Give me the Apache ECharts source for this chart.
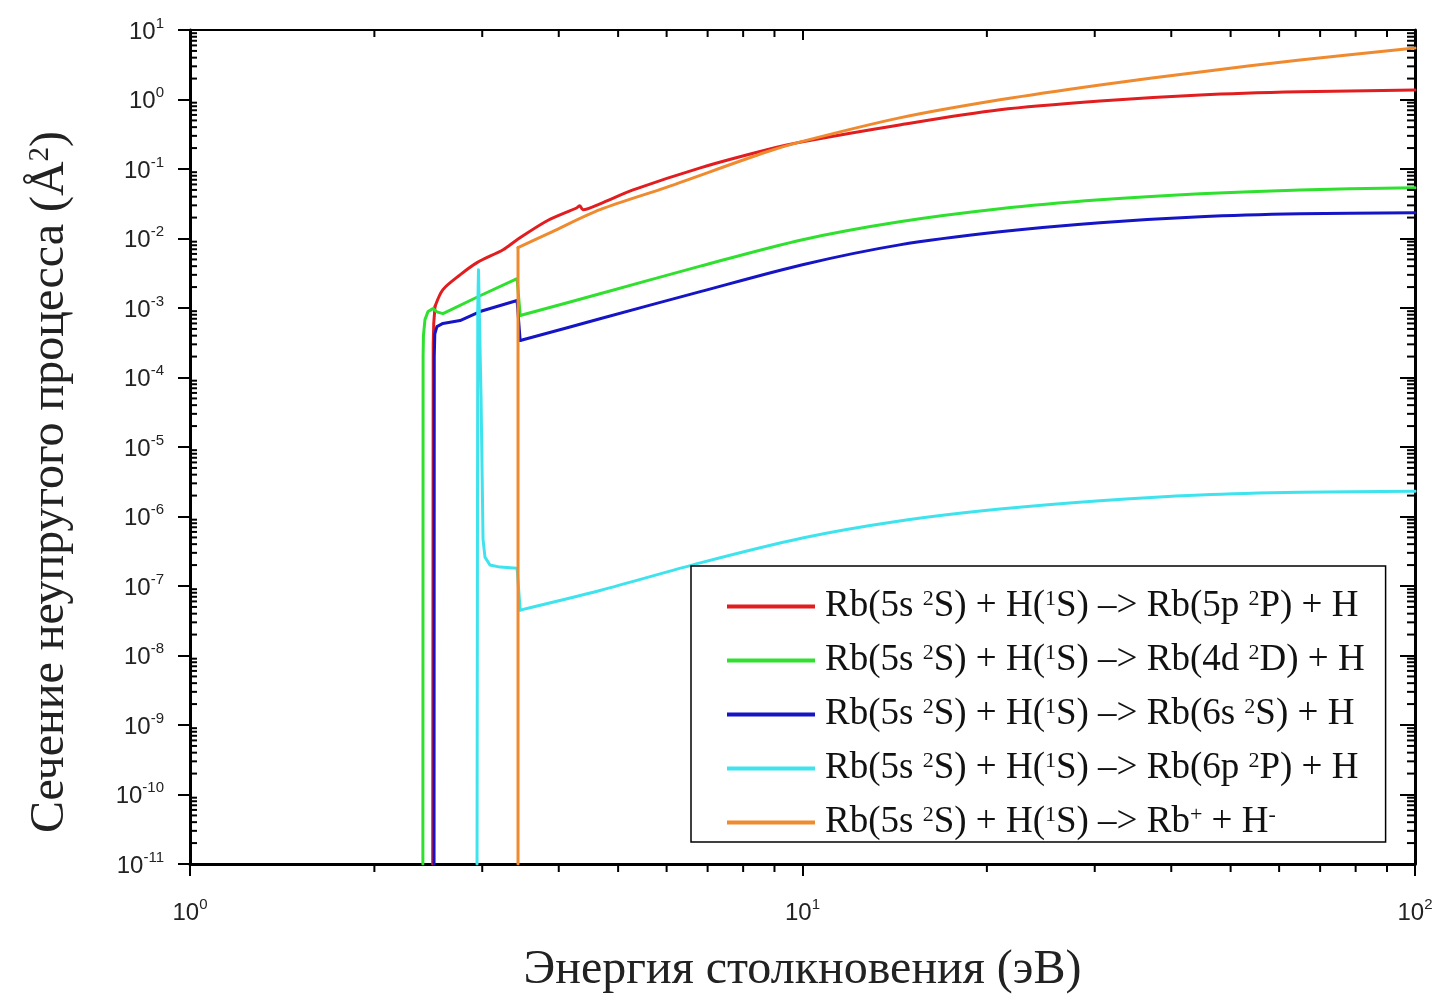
<!DOCTYPE html>
<html>
<head>
<meta charset="utf-8">
<script src="https://cdn.jsdelivr.net/npm/echarts@6/dist/echarts.min.js"></script>
<style>
  html, body { margin: 0; padding: 0; background: #fff; }
  #chart { width: 1441px; height: 999px; }
</style>
</head>
<body>
<div id="chart"></div>
<script>
// Inelastic cross sections for Rb(5s) + H(1s) collisions, Å^2 vs collision energy, eV

const reactionNames = [
  'Rb(5s {s|2}S) + H({s|1}S) –> Rb(5p {s|2}P) + H',
  'Rb(5s {s|2}S) + H({s|1}S) –> Rb(4d {s|2}D) + H',
  'Rb(5s {s|2}S) + H({s|1}S) –> Rb(6s {s|2}S) + H',
  'Rb(5s {s|2}S) + H({s|1}S) –> Rb(6p {s|2}P) + H',
  'Rb(5s {s|2}S) + H({s|1}S) –> Rb{s|+} + H{s|-}'
];
const reactionColors = ['#e11d1f', '#2fe02f', '#1515c6', '#3fe3ee', '#f08a2e'];

// 5p
const energy5p = [2.49, 2.495, 2.50, 2.512, 2.588, 2.76, 2.942, 3.245, 3.42, 3.83, 4.283, 4.33, 4.38, 4.67, 5.29, 6.81, 8.75, 10, 14.4, 21, 30.6, 44.6, 64.9, 100];
const sigma5p  = [1e-11, 3e-4, 6e-4, 1.05e-3, 1.84e-3, 3.0e-3, 4.5e-3, 6.9e-3, 9.6e-3, 1.8e-2, 2.77e-2, 2.96e-2, 2.6e-2, 3.16e-2, 5.0e-2, 0.104, 0.189, 0.246, 0.43, 0.71, 0.95, 1.16, 1.29, 1.37];

// 4d
const energy4d = [2.40, 2.402, 2.405, 2.419, 2.447, 2.493, 2.53, 2.588, 2.975, 3.42, 3.46, 4.67, 6.81, 10, 14.4, 21, 30.6, 44.6, 64.9, 100];
const sigma4d  = [1e-11, 2e-4, 4e-4, 6.8e-4, 8.9e-4, 9.8e-4, 8.8e-4, 8.3e-4, 1.5e-3, 2.64e-3, 7.8e-4, 1.6e-3, 4.0e-3, 9.6e-3, 1.74e-2, 2.68e-2, 3.6e-2, 4.4e-2, 5.0e-2, 5.37e-2];

// 6s
const energy6s = [2.503, 2.505, 2.51, 2.53, 2.588, 2.76, 2.975, 3.42, 3.46, 4.67, 6.81, 10, 14.4, 21, 30.6, 44.6, 64.9, 100];
const sigma6s  = [1e-11, 2e-4, 4.2e-4, 5.4e-4, 6.0e-4, 6.6e-4, 8.9e-4, 1.28e-3, 3.4e-4, 7.0e-4, 1.72e-3, 4.2e-3, 8.1e-3, 1.25e-2, 1.69e-2, 2.06e-2, 2.27e-2, 2.35e-2];

// 6p
const energy6p = [2.942, 2.95, 2.958, 2.987, 3.009, 3.031, 3.088, 3.208, 3.42, 3.46, 4.67, 6.81, 10, 14.4, 21, 30.6, 44.6, 64.9, 100];
const sigma6p  = [1e-11, 1e-3, 3.56e-3, 4.8e-5, 4.7e-7, 2.6e-7, 2.0e-7, 1.87e-7, 1.8e-7, 4.5e-8, 8.6e-8, 2.15e-7, 4.9e-7, 8.6e-7, 1.28e-6, 1.69e-6, 2.04e-6, 2.23e-6, 2.3e-6];

// ion pair Rb+ + H-
const energyIon = [3.432, 3.432, 3.9, 4.67, 6.01, 8.75, 10, 14.4, 21, 30.6, 44.6, 64.9, 100];
const sigmaIon  = [1e-11, 7.4e-3, 1.25e-2, 2.6e-2, 5.5e-2, 0.177, 0.25, 0.544, 0.99, 1.62, 2.49, 3.7, 5.5];

const curveEnergies = [energy5p, energy4d, energy6s, energy6p, energyIon];
const curveSigmas = [sigma5p, sigma4d, sigma6s, sigma6p, sigmaIon];
// index of the first point of each curve's smooth high-energy branch
const smoothFrom = [3, 10, 8, 9, 1];

// axis ranges (decades)
const X_MIN = 1, X_MAX = 100;
const Y_MIN = 1e-11, Y_MAX = 10;
const minorSteps = [2, 3, 4, 5, 6, 7, 8, 9];
const xDecades = [1, 10];
const yDecades = [1e-11, 1e-10, 1e-9, 1e-8, 1e-7, 1e-6, 1e-5, 1e-4, 1e-3, 1e-2, 1e-1, 1];

const xMinor = [];
xDecades.forEach(d => minorSteps.forEach(k => xMinor.push(d * k)));
const yMinor = [];
yDecades.forEach(d => minorSteps.forEach(k => yMinor.push(d * k)));

const chart = echarts.init(document.getElementById('chart'), null, { renderer: 'canvas' });

const tickLabelRich = {
  b: { fontFamily: 'Liberation Sans', fontSize: 24, lineHeight: 28, verticalAlign: 'bottom', color: '#222' },
  s: { fontFamily: 'Liberation Sans', fontSize: 15, lineHeight: 15, verticalAlign: 'top', color: '#222' }
};
const powerLabel = v => '{b|10}{s|' + Math.round(Math.log10(v)) + '}';

// every curve: a straight threshold part and a smoothed branch, sharing one legend name
const lineSeries = [];
reactionNames.forEach((name, i) => {
  const pts = curveEnergies[i].map((e, j) => [e, curveSigmas[i][j]]);
  const k = smoothFrom[i];
  const parts = [
    { data: pts.slice(0, k + 1), smooth: false },
    { data: pts.slice(k), smooth: 0.3 }
  ];
  parts.forEach(p => {
    if (p.data.length < 2) return;
    lineSeries.push({
      name: name,
      type: 'line',
      data: p.data,
      showSymbol: false,
      symbol: 'none',
      smooth: p.smooth,
      color: reactionColors[i],
      lineStyle: { width: 3, color: reactionColors[i], cap: 'round', join: 'round' },
      z: 2 + i,
      animation: false
    });
  });
});

function tickLine(x1, y1, x2, y2) {
  return { type: 'line', shape: { x1, y1, x2, y2 }, style: { stroke: '#000', lineWidth: 2 } };
}

const minorTickSeries = [
  {
    type: 'custom',
    data: xMinor.map(v => [v, Y_MIN]),
    encode: { x: 0, y: 1 },
    clip: false, silent: true, z: 20, animation: false,
    renderItem: (params, api) => {
      const v = api.value(0);
      const b = api.coord([v, Y_MIN]);
      const t = api.coord([v, Y_MAX]);
      return { type: 'group', children: [
        tickLine(b[0], b[1], b[0], b[1] + 8),
        tickLine(t[0], t[1], t[0], t[1] + 7)
      ] };
    }
  },
  {
    type: 'custom',
    data: yMinor.map(v => [X_MIN, v]),
    encode: { x: 0, y: 1 },
    clip: false, silent: true, z: 20, animation: false,
    renderItem: (params, api) => {
      const v = api.value(1);
      const l = api.coord([X_MIN, v]);
      const r = api.coord([X_MAX, v]);
      return { type: 'group', children: [
        tickLine(l[0], l[1], l[0] + 7, l[1]),
        tickLine(r[0], r[1], r[0] - 8, r[1])
      ] };
    }
  }
];

const option = {
  backgroundColor: '#fff',
  animation: false,
  grid: { left: 190, top: 30, right: 26, bottom: 134, containLabel: false },
  xAxis: [
    {
      type: 'log', logBase: 10, min: X_MIN, max: X_MAX, interval: 1, splitNumber: 2, position: 'bottom',
      name: 'Энергия столкновения (эВ)', nameLocation: 'middle', nameGap: 82,
      nameTextStyle: { fontFamily: 'Liberation Serif', fontSize: 48, color: '#222' },
      axisLine: { show: true, lineStyle: { color: '#000', width: 3 } },
      axisTick: { show: true, inside: false, length: 12, lineStyle: { color: '#000', width: 2 } },
      axisLabel: { show: true, margin: 33, hideOverlap: false, showMinLabel: true, showMaxLabel: true, formatter: powerLabel, rich: tickLabelRich },
      splitLine: { show: false }
    },
    {
      type: 'log', logBase: 10, min: X_MIN, max: X_MAX, interval: 1, splitNumber: 2, position: 'top',
      axisLine: { show: true, lineStyle: { color: '#000', width: 2 } },
      axisTick: { show: true, inside: true, length: 10, lineStyle: { color: '#000', width: 2 } },
      axisLabel: { show: false },
      splitLine: { show: false }
    }
  ],
  yAxis: [
    {
      type: 'log', logBase: 10, min: Y_MIN, max: Y_MAX, interval: 1, splitNumber: 12, position: 'left',
      name: 'Сечение неупругого процесса (Å{s|2})', nameLocation: 'middle', nameGap: 116, nameRotate: 90,
      nameTextStyle: {
        fontFamily: 'Liberation Serif', fontSize: 48, color: '#222', padding: [0, 70, 0, 0],
        rich: { s: { fontFamily: 'Liberation Serif', fontSize: 29, lineHeight: 24, verticalAlign: 'top', color: '#222' } }
      },
      axisLine: { show: true, lineStyle: { color: '#000', width: 3 } },
      axisTick: { show: true, inside: false, length: 12, lineStyle: { color: '#000', width: 2 } },
      axisLabel: { show: true, margin: 26, hideOverlap: false, showMinLabel: true, showMaxLabel: true, formatter: powerLabel, rich: tickLabelRich },
      splitLine: { show: false }
    },
    {
      type: 'log', logBase: 10, min: Y_MIN, max: Y_MAX, interval: 1, splitNumber: 12, position: 'right',
      axisLine: { show: true, lineStyle: { color: '#000', width: 3 } },
      axisTick: { show: true, inside: true, length: 15, lineStyle: { color: '#000', width: 2 } },
      axisLabel: { show: false },
      splitLine: { show: false }
    }
  ],
  legend: {
    orient: 'vertical', left: 691, top: 566,
    data: reactionNames,
    icon: 'rect', itemWidth: 88, itemHeight: 4, itemGap: 17,
    padding: [22, 21, 1, 36],
    borderColor: '#000', borderWidth: 1.5, backgroundColor: '#fff',
    selectedMode: false,
    formatter: n => n,
    textStyle: {
      fontFamily: 'Liberation Serif', fontSize: 37, lineHeight: 36, color: '#111', padding: [0, 0, 0, 5],
      rich: { s: { fontFamily: 'Liberation Serif', fontSize: 22, lineHeight: 18, verticalAlign: 'top', color: '#111' } }
    },
    z: 30
  },
  series: lineSeries.concat(minorTickSeries)
};

chart.setOption(option);
</script>
</body>
</html>
